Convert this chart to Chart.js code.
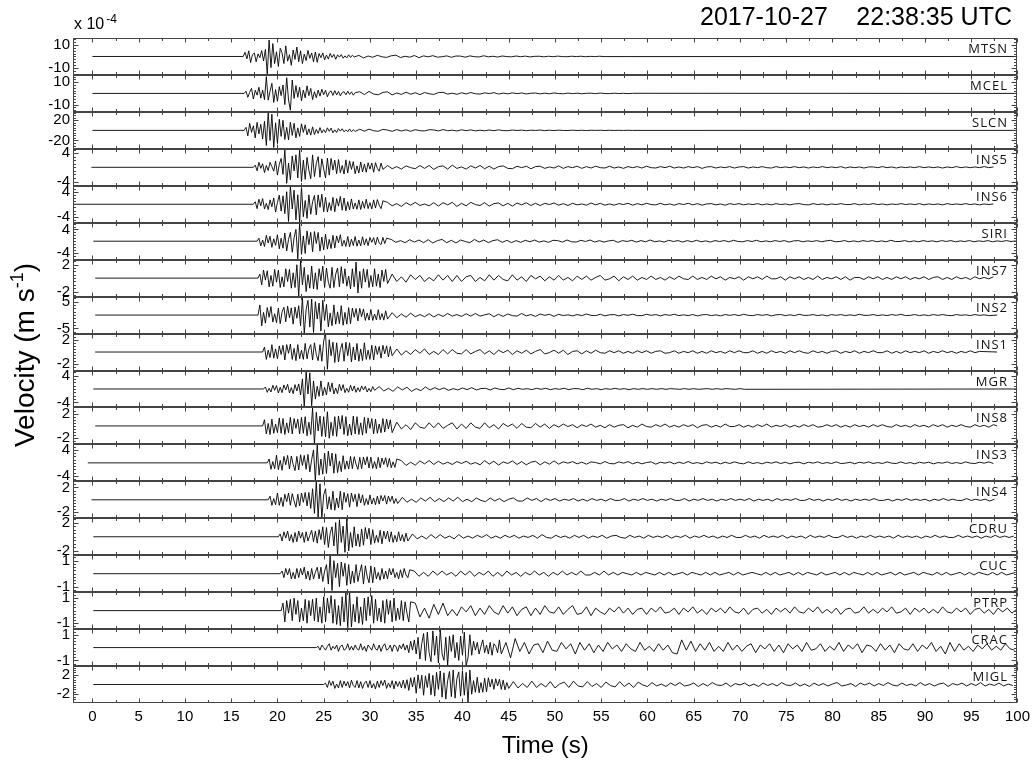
<!DOCTYPE html>
<html><head><meta charset="utf-8">
<script src="https://cdn.jsdelivr.net/npm/chart.js@4.4.1/dist/chart.umd.min.js"></script>
<style>html,body{margin:0;padding:0;background:#fff}#wrap{width:1035px;height:763px;position:relative}</style>
</head><body><div id="wrap"><canvas id="c" width="1035" height="763"></canvas></div>
<script>
// ---- chart values (velocity samples in units of 1e-5 m/s; plotted in units of 1e-4 m/s) ----
const STATIONS = ['MTSN','MCEL','SLCN','INS5','INS6','SIRI','INS7','INS2','INS1','MGR','INS8','INS3','INS4','CDRU','CUC','PTRP','CRAC','MIGL'];
const Y_TICK = [10,10,20,4,4,4,2,5,2,4,2,4,2,2,1,1,1,2];
const Y_LIMIT = [15.7,16.5,36.6,5.2,5.9,6.3,2.75,6.9,3.0,5.5,3.0,5.7,3.0,2.6,1.42,1.47,1.44,3.8];
const LINE_START = [0,0,0,-0.1,-2.1,0.1,0.3,0.3,0.3,0.1,0.3,-0.5,-0.1,0.1,0.1,0.1,0.1,0.1];
const ONSET = [16.3,16.4,16.4,17.4,17.4,17.8,17.9,17.9,18.4,18.5,18.4,18.9,19.0,20.1,20.3,20.4,24.2,25.0];
const LINE_END = [100,100,100,97.8,97.8,100,97.8,97.8,97.8,100,97.8,97.8,97.8,100,100,100,100,100];
const DT_A = 0.2, DT_B = 0.5;
const X_TICKS = [0,5,10,15,20,25,30,35,40,45,50,55,60,65,70,75,80,85,90,95,100];

const MTSN_A = [35,-20,48,-52,15,30,-45,22,-10,50,-38,60,-150,140,-95,110,-60,40,-85,70,30,-60,90,-40,15,-75,55,-25,80,-45,48,-60,20,-35,52,-15,30,-45,38,-50,25,-10,30,-28,12,-22,26,-8,18,-24,14,-6,16,-15,5,-12,14,-9,11,-4];
const MTSN_B = [9,-12,4,-7,10,-3,-8,6,11,-9,2,-6,8,-10,5,-3,7,-6,-2,5,-7,4,3,-6,5,-2,-4,6,-3,2,-5,4,-1,-3,4,-2,3,-4,1,2,-3,2,-2,3,-1,-2,2,-1,2,-2,1,-1,2,-1];
const MCEL_A = [20,-35,10,45,-50,28,-15,55,-42,30,-55,150,-60,20,90,-80,35,-70,60,-20,75,-100,140,-60,-150,120,-45,70,-35,55,-65,30,-40,68,-20,45,-55,15,-38,30,-25,38,-12,28,-30,10,22,-18,25,-14,18,-22,8,15,-12,20,-9,14,-16,6];
const MCEL_B = [15,-10,18,-6,-12,9,14,-13,4,-9,11,-7,6,-11,8,-3,-9,7,10,-6,2,-8,6,-5,8,-3,-6,5,-2,7,-6,3,-4,5,-2,4,-5,2,3,-4,2,-3,4,-1,-3,3,-2,2,-3,1,2,-2,3,-1,-2,2,-1,1,-2,1];
const SLCN_A = [60,-110,140,-40,90,-150,160,-70,120,-170,180,-300,350,-200,320,-340,150,-260,220,-120,200,-180,60,-190,160,-100,140,-150,50,-120,130,-40,110,-90,30,-95,70,-85,20,-60,55,-50,15,-45,50,-20,45,-48,10,-42,35,-15,32,-28,8,-25,28,-30,12,-20];
const SLCN_B = [22,-15,24,-8,-18,20,6,-19,15,-12,10,-18,14,-6,-12,13,9,-11,15,-7,4,-12,11,-5,9,-10,3,-8,7,-6,10,-4,-6,7,-3,5,-7,4,-2,6,-5,3,-4,5,-2,-3,4,-3,2,-4,3,-1,2,-3,2,-2,1,-2,2,-1];
const INS5_A = [6,-10,14,-3,10,-15,5,-9,14,2,-11,18,-22,8,25,-20,50,-45,12,-35,32,-10,35,-30,48,-40,20,-34,28,-8,-32,35,-26,10,30,-28,24,-5,-30,26,-22,25,-8,20,-18,22,-15,5,-19,21,-16,18,-6,16,-18,4,-16,15,-13,9,-14,13,-5,12,-14,13,-3,-11,12,-6];
const INS5_B = [5,-4,2,-5,4,-1,-4,5,-3,5,-6,2,4,-5,6,-3,1,-5,4,-2,5,-4,3,-5,2,4,-3,-4,3,-1,3,-4,2,3,-3,1,-2,4,-3,2,-1,3,-3,2,-2,3,-1,-2,3,-2,1,-3,2,-1,2,-2,3,-1,-2,2,-1,3,-2,1,-2,2,-1,2,-3,1,2,-2,1,-1,2,-2,1,2,-2,1,-1,2,-1,-2,2,-1,1,-1,2,-1,1,-2,1,-1,2,-1,1,-1,2,-2,1,-1,1,-2,1,1,-1,2,-1,1,-2,1,-1,1,-1,2,-1,1,-1,1,-2,1,-1,2,-1,1,-1,1,-1,2,-1,1,-1];
const INS6_A = [8,-14,16,-5,18,-15,3,-17,14,-8,20,-25,6,29,-22,27,-30,40,-55,58,-15,45,-50,30,-58,55,-40,12,-45,30,-32,8,28,-34,30,-10,32,-24,22,-25,5,-20,22,-24,18,-6,25,-19,20,-21,8,-18,17,-15,4,-16,14,-17,9,-13,16,-14,5,-15,14,-12,15,-3,-14,11];
const INS6_B = [6,-5,2,-7,5,-3,6,-4,1,-5,5,-6,5,-2,6,-7,3,-5,6,-1,-4,5,-6,2,4,-5,3,-6,4,-2,5,-4,3,-4,3,-1,4,-3,2,-4,3,-2,1,-3,4,-2,3,-3,1,-3,2,-1,3,-3,2,-2,3,-1,-2,3,-2,1,-3,2,-1,3,-2,2,-3,1,2,-2,1,-3,2,-1,2,-2,1,-1,2,-2,1,-2,2,-1,1,-2,1,2,-1,-2,2,-1,1,-2,1,-1,2,-1,-1,2,-2,1,-1,2,-1,1,-2,1,-1,2,-1,1,-1,2,-2,1,-1,1,-2,2,-1,1,-1,2,-1,1,-2,1,-1,1,-1];
const SIRI_A = [10,-16,4,-18,20,-6,17,-21,8,-14,22,-26,10,-24,28,-33,6,30,-38,12,40,-60,62,-45,18,-42,35,-12,30,-36,33,-8,30,-34,14,-30,24,-27,6,-25,20,-23,18,-5,22,-17,3,-18,16,-19,7,-15,16,-17,4,-16,15,-13,8,-15,13,-4,12,-13,14,-6,-12,13,-8,10];
const SIRI_B = [6,-4,2,-5,5,-3,4,-5,5,-6,2,6,-5,3,-6,4,-1,-5,6,-3,4,-5,2,5,-4,3,-5,2,-4,3,-2,4,-3,1,-4,3,2,-3,4,-2,-3,3,-1,4,-3,2,-3,1,3,-4,2,-1,3,-3,2,-2,4,-2,1,-3,3,-1,2,-3,2,-2,3,-2,1,-3,2,-1,2,-2,3,-1,-2,2,-1,3,-2,1,-2,2,-1,2,-3,1,2,-2,1,-1,2,-2,1,3,-2,-1,2,-2,1,-2,2,-1,2,-2,1,-2,3,-1,-1,2,-2,1,-2,2,-1,1,-2,2,-1,2,-2,1,-1,2,-2,1,-1,2,-2,1,-1,2,-1,1,-1];
const INS7_A = [6,-10,12,-3,11,-13,4,-12,13,-6,12,-14,2,-13,14,-5,13,-15,8,-14,20,-27,26,-10,16,-20,5,-15,18,-16,8,-17,14,-4,18,-14,15,-6,-15,16,-14,6,15,-13,17,-8,14,-12,3,-16,14,-13,24,-22,10,-15,14,-6,13,-14,4,-13,14,-12,6,-14,12,-5,13,-8];
const INS7_B = [6,-5,2,-6,5,-2,4,-5,1,-4,5,-3,4,-5,4,-5,2,4,-5,1,-4,5,-3,4,-2,-4,5,-3,2,-5,4,-1,3,-4,2,-3,4,-3,1,-4,3,-2,3,-3,1,4,-3,-1,3,-4,2,-2,3,-3,1,-2,3,-2,1,-3,2,-2,3,-1,-2,3,-2,1,-2,3,-1,2,-3,1,-1,2,-3,2,-1,2,-2,3,-1,-1,2,-3,2,-1,2,-2,1,-2,3,-2,1,-1,2,-2,2,-3,1,1,-2,2,-1,2,-2,1,-2,2,-1,2,-2,1,-1,2,-2,1,2,-2,1,-2,2,-1,1,-2,2,-1,1,-1,2,-1];
const INS2_A = [38,-40,10,-30,28,-8,32,-26,5,-28,26,-32,12,29,-25,33,-10,27,-34,30,-12,35,-40,66,-69,20,55,-45,60,-65,50,-15,45,-60,56,-20,40,-44,8,-40,38,-34,12,-32,35,-38,10,-34,28,-32,26,-8,24,-22,25,-6,23,-20,8,-19,21,-20,4,-18,20,-17,6,-19,16,-15];
const INS2_B = [9,-10,4,-8,7,-6,2,-6,5,-7,3,-5,6,-4,2,-5,5,-4,6,-4,1,5,-6,3,-5,4,-2,-4,6,-3,2,-5,4,-1,3,-5,3,-2,1,-3,2,-2,4,-1,-2,3,-3,1,2,-3,2,-1,3,-2,-2,3,-1,2,-3,2,-1,3,-2,1,-2,2,-3,1,2,-2,1,-3,2,-1,2,-2,3,-1,-2,2,-1,2,-3,1,2,-2,1,-2,3,-1,-1,2,-2,1,-3,2,-1,2,-2,1,-2,3,-1,-1,2,-2,1,-2,2,-1,3,-2,-1,2,-2,1,-2,2,-1,2,-1,-2,2,-1,1,-2,2,-1,1,-2];
const INS1_A = [8,-12,3,-9,12,-10,5,-11,10,-4,11,-13,12,-2,13,-12,6,-14,12,-11,3,-12,14,-11,5,12,-13,15,-4,-14,12,-15,18,30,-28,20,-6,16,-17,15,-16,4,14,-15,16,-6,15,-16,8,-13,14,-15,5,-14,15,-12,3,-12,11,-13,10,-4,9,-10,11,-3,10,-8,9,-6];
const INS1_B = [5,-5,2,-4,4,-2,5,-4,1,-4,4,-3,4,-2,-3,4,-3,1,4,-3,2,-4,3,-1,3,-4,2,-2,3,-3,1,4,-3,-1,3,-2,3,-4,1,2,-3,2,-2,3,-1,-2,2,-1,2,-2,1,-2,2,-1,2,-2,1,2,-2,-1,2,-2,1,-1,2,-2,1,-2,2,-1,1,-2,2,-1,2,-1,-1,2,-2,1,-2,2,-1,1,-2,2,-1,2,-1,-2,2,-1,1,-2,1,2,-2,1,-1,2,-2,1,-1,2,-1,-1,2,-2,1,-2,2,-1,1,-1,2,-2,1,-1,2,-1,1,-2,1,-1,2,-1,1];
const MGR_A = [6,-10,2,-9,11,-4,10,-12,5,-11,12,-3,14,-12,4,-14,13,-6,15,-18,30,-54,52,-15,48,-50,24,-30,8,-22,24,-20,5,-18,20,-8,18,-15,3,-14,14,-5,13,-11,2,-10,11,-6,9,-10,4,-8,9,-3,8,-9,2,-8,7,-4];
const MGR_B = [7,-6,2,-7,6,-3,5,-7,1,-5,6,-3,4,-2,3,-4,1,-3,3,-2,4,-3,1,2,-3,3,-1,-2,3,-2,2,-1,1,-2,2,-1,2,-2,1,-1,2,-2,1,1,-2,2,-1,1,-2,1,-1,2,-1,1,-2,1,-1,1,-1,1,-1,1,-1,1,0,-1,1,-1,1,-1,0,1,-1,1,-1,1,0,-1,1,-1];
const INS8_A = [10,-13,4,-14,11,-12,3,-11,13,-12,12,-14,5,-11,14,-13,12,-4,11,-13,14,-12,15,-16,6,-14,29,-30,22,-8,16,-17,15,-18,23,-20,6,-16,15,-17,16,-5,17,-14,15,-16,3,-15,16,-13,15,-14,5,-15,14,-12,13,-4,12,-13,11,-12,3,-11,12,-10,11,-5,10,-11];
const INS8_B = [6,-5,2,-6,5,-2,-4,5,-3,5,-4,1,5,-5,3,-4,5,-2,-4,5,-3,2,-5,4,-1,3,-4,4,-2,-3,4,-2,3,-4,2,-2,3,-1,2,-3,2,-1,3,-2,1,-3,2,-2,1,2,-3,1,-2,3,-1,-2,2,-1,3,-2,1,-2,2,-1,2,-3,1,2,-2,1,-2,3,-1,-1,2,-2,1,-2,2,-1,3,-2,1,-1,2,-2,1,-2,2,-1,2,-2,-1,2,-1,2,-2,1,-2,2,-1,1,-2,2,-1,2,-1,-2,2,-1,1,-2,2,-1,1,-2,2,-1,2,-2,1,-1,2,-1,-2,2,-1,1,-2,2];
const INS3_A = [12,-20,4,-18,24,-21,8,-23,20,-6,23,-19,21,-5,-24,20,-22,25,-8,23,-20,26,-28,10,40,-57,55,-38,12,-35,30,-33,36,-10,30,-32,28,-30,5,-27,22,-20,6,-19,20,-18,19,-4,-20,17,-18,18,-6,19,-16,18,-17,4,-18,17,-15,15,-5,16,-13,14,-15,3,-14,12];
const INS3_B = [7,-8,2,-7,6,-3,7,-5,5,-4,2,-5,4,-2,5,-4,1,-6,7,-4,5,-7,3,-2,6,-5,4,-6,2,5,-6,3,-4,6,-4,3,-1,4,-3,2,-4,3,1,-3,4,-2,-3,3,-1,4,-3,2,-3,1,3,-4,2,-1,3,-3,2,-2,4,-2,1,-3,3,-1,2,-3,2,-2,3,-1,-3,3,-2,1,-3,2,-1,3,-2,2,-3,1,2,-3,2,-1,3,-2,1,-2,3,-2,-1,2,-3,2,-1,3,-2,1,-2,3,-1,-2,3,-2,1,-3,2,-1,2,-3,1,-1,3,-2,1,-2,3,-1,-2,2,-1,3,-2,1,-2];
const INS4_A = [6,-9,2,-8,11,-9,4,-11,9,-3,11,-9,10,-2,-12,9,-10,11,-4,12,-10,12,-14,18,-22,30,-28,26,-30,8,18,-15,5,-16,14,-17,3,-13,14,-16,12,-4,10,-12,11,-3,9,-11,10,-5,8,-9,2,-8,8,-7,3,-8,6,-7,7,-2,7,-7,6,-3,6,-6,2,-6];
const INS4_B = [4,-4,1,-4,3,-2,4,-3,2,-3,3,-2,4,-3,1,-3,3,-1,-3,3,-2,2,-3,1,3,-2,-2,3,-1,2,-3,2,-1,2,-2,1,-1,2,-2,1,-2,2,-1,1,-2,2,-1,-1,2,-2,1,-1,2,-1,1,-2,1,-1,2,-1,-1,2,-2,1,-1,2,-1,1,-2,1,-1,2,-1,1,-1,2,-2,1,-1,1,-2,2,-1,1,-1,2,-1,-1,2,-1,1,-2,1,-1,2,-1,1,-2,1,-1,1,-1,2,-1,-1,1,-2,1,-1,2,-1,1,-1,1,-2,1,-1,2,-1,1,-1,-1,2,-1,1,-1,1,-2,1,-1];
const CDRU_A = [4,-6,7,-2,8,-6,3,-8,6,-7,8,-2,6,-8,7,-6,2,9,-7,8,-9,10,-4,14,-11,13,-15,5,14,-13,20,-26,24,-8,15,-22,25,-20,6,-15,14,-13,4,-14,11,-12,13,-3,12,-11,10,-9,2,-8,9,-10,8,-3,8,-7,7,-8,2,-7,7,-6,3,-7,5,-6];
const CDRU_B = [4,-3,1,-3,3,-2,3,-2,1,-3,3,-2,1,-2,2,-1,3,-2,1,-2,2,-1,2,-2,1,-1,2,-2,3,-1,-2,2,-1,1,-2,2,-1,2,-2,1,-1,2,-2,1,2,-1,-2,2,-1,1,-2,2,-1,1,-1,2,-2,1,-1,2,-2,1,-1,2,-1,1,-2,1,-1,2,-1,-1,2,-1,1,-2,2,-1,1,-1,2,-2,1,-1,1,-2,2,-1,1,-1,2,-1,-1,2,-1,1,-2,1,-1,2,-1,1,-1,1,-2,2,-1,1,-1,1,-2,1,-1,2,-1,1,-1,-1,2,-1,1,-1,1,-2,1,-1,2,-1,1,-1,1,-1,2,-1,1,-1];
const CUC_A = [2,-3,4,-1,4,-4,1,-4,4,-3,4,-1,5,-4,2,-5,4,-4,1,5,-4,5,-6,2,7,-8,14,-13,10,-3,8,-10,9,-2,8,-9,7,-8,2,-7,7,-6,1,7,-8,6,-2,-7,6,-7,5,-4,1,-5,4,-4,2,-4,4,-1,4,-3,1,-4,3,-3,4,-1,-3,3];
const CUC_B = [2,-2,1,-2,2,-1,2,-1,1,-2,2,-1,2,-2,1,-1,2,-2,1,-2,2,-1,1,-2,1,-1,2,-1,1,-2,1,-1,2,-1,1,-1,2,-1,-1,1,-1,2,-1,1,-1,1,0,-1,1,-1,1,0,-1,1,-1,1,-1,0,1,-1,1,0,-1,1,-1,1,-1,0,1,-1,1,-1,0,1,0,-1,1,-1,1,-1,0,1,-1,1,-1,1,0,-1,1,-1,0,1,-1,1,-1,1,0,-1,1,-1,1,-1,0,1,-1,1,-1,0,1,-1,1,0,-1,1,-1,1,-1,0,1,-1,1,-1,1,0,-1,1,-1,1,-1,0,1,-1,1,-1];
const PTRP_A = [6,-9,8,-2,9,-8,10,-3,8,-9,2,-8,9,-10,8,-4,9,-8,10,-9,3,-10,11,-9,10,-2,12,-10,9,-11,4,-12,11,-9,14,-14,15,-13,5,-9,11,-10,3,-11,10,-8,11,-4,12,-10,9,-8,2,-9,8,-10,9,-3,8,-9,10,-8,2,-7,8,-8,7,-2,-9,7];
const PTRP_B = [6,-5,2,-6,5,-3,6,-4,1,-4,3,-1,4,-4,2,-3,4,-1,-3,4,-2,3,-4,1,3,-4,2,-3,4,-1,-2,3,-3,1,4,-3,-2,3,-4,2,-1,-3,2,-1,3,-2,2,-3,1,2,-3,2,-1,3,-2,-1,2,-3,2,-1,3,-2,1,-3,2,-1,2,-2,3,-1,-2,2,-3,1,2,-2,1,-3,2,-1,2,-2,3,-1,-2,2,-1,3,-2,1,-2,2,-3,1,2,-2,-1,3,-2,1,-2,2,-1,3,-2,-1,2,-3,2,-1,2,-2,1,-2,3,-1,-2,2,-1,2,-3,1,2,-2,1,-3,2,-1,2,-2,1,-2,3];
const CRAC_A = [1,-2,2,0,-2,1,3,-2,1,-1,2,-3,1,2,-2,-1,3,-2,1,-2,2,-1,-2,3,-2,1,-3,2,0,-2,3,-1,-2,2,-3,1,3,-2,-1,2,-3,2,1,-3,2,-1,3,-2,2,-4,5,-2,6,-5,8,-9,3,11,-10,12,-4,-11,13,-6,9,-12,14,-5,-10,8,-14,9,-3,10,-8,4,-10,9,-6,12,-14,-8,10,-6,5,-2,4,-5,1,6,-4,2,-5,4,-6,3,1,-4,6,-5];
const CRAC_B = [4,-8,7,-3,4,-5,2,3,-4,5,-2,-3,4,-1,3,-5,4,-2,3,-4,2,-3,4,-1,2,-3,3,-1,-3,4,-2,1,-3,3,-2,2,-4,-5,6,-2,5,-3,3,-2,4,-3,1,-3,4,-2,2,-3,1,3,-4,2,-1,3,-3,2,-4,3,-1,2,-3,4,-2,-1,3,-3,1,-2,4,-3,2,-1,3,-4,2,1,-3,3,-2,2,-4,3,-1,-2,3,-3,2,-1,4,-3,1,-5,4,-3,3,-2,1,-3,2,-1,3,-2,1,-2,3,-1,-2,2,-1,2];
const MIGL_A = [3,-6,8,-2,7,-8,1,-7,8,-6,7,-3,6,-7,9,-2,-6,8,-7,6,-8,3,7,-6,8,-7,2,-9,7,-6,8,-2,9,-8,3,-6,8,-9,7,-4,6,-7,9,-8,10,-12,14,-5,15,-18,20,-8,19,-22,18,-6,23,-21,19,-24,25,-10,28,-26,24,-30,8,27,-25,30,-28,12,26,-24,28,-22,25,-38,30,-20,8,-16,15,-17,4,-16,13,-15,14,-5,11,-10,12,-3,11,-10,9,-11,4,-8];
const MIGL_B = [6,-7,2,-6,7,-6,2,-5,6,-7,1,5,-6,7,-3,-5,6,-4,2,-6,5,-2,-5,6,-4,3,-6,5,-1,-4,4,-3,1,-4,3,-2,4,-3,-1,3,-4,2,-3,4,-1,-2,3,-4,2,-1,3,-3,1,-4,3,-2,2,-3,4,-1,-2,3,-3,1,-4,3,-2,2,-3,1,4,-3,-1,2,-4,3,-1,3,-3,2,-2,4,-1,-3,3,-2,1,-3,4,-2,2,-3,1,3,-4,2,-1,3,-3,2,-2,4,-3,1,-2,3,-3,1,-2,3];

const TRACE_A = [MTSN_A,MCEL_A,SLCN_A,INS5_A,INS6_A,SIRI_A,INS7_A,INS2_A,INS1_A,MGR_A,INS8_A,INS3_A,INS4_A,CDRU_A,CUC_A,PTRP_A,CRAC_A,MIGL_A];
const TRACE_B = [MTSN_B,MCEL_B,SLCN_B,INS5_B,INS6_B,SIRI_B,INS7_B,INS2_B,INS1_B,MGR_B,INS8_B,INS3_B,INS4_B,CDRU_B,CUC_B,PTRP_B,CRAC_B,MIGL_B];

function buildTrace(i) {
  const pts = [{x: LINE_START[i], y: 0}, {x: ONSET[i], y: 0}];
  let t = ONSET[i];
  for (const v of TRACE_A[i]) { t += DT_A; pts.push({x: t, y: v / 10}); }
  for (const v of TRACE_B[i]) { t += DT_B; if (t > LINE_END[i]) break; pts.push({x: t, y: v / 10}); }
  if (t < LINE_END[i]) pts.push({x: LINE_END[i], y: 0});
  return pts;
}

const FONT = "'Liberation Sans', Arial, Helvetica, sans-serif";
const N = STATIONS.length;
const datasets = STATIONS.map((s, i) => ({
  label: s, data: buildTrace(i), yAxisID: 'y' + i,
  borderColor: '#000', borderWidth: 0.9, pointRadius: 0, tension: 0, fill: false
}));

const scales = {
  x: {
    type: 'linear', min: -2.1, max: 100, position: 'bottom',
    afterBuildTicks: s => { s.ticks = X_TICKS.map(v => ({value: v})); },
    afterFit: s => { s.height = 60; },
    grid: {display: false, drawTicks: false}, border: {display: false},
    ticks: {font: {family: FONT, size: 15}, color: '#000', padding: 5, maxRotation: 0, autoSkip: false}
  }
};
STATIONS.forEach((s, i) => {
  scales['y' + i] = {
    type: 'linear', position: 'left', stack: 'traces', stackWeight: 1, weight: N - i,
    min: -Y_LIMIT[i], max: Y_LIMIT[i], offset: false,
    afterBuildTicks: sc => { sc.ticks = [{value: -Y_TICK[i]}, {value: Y_TICK[i]}]; },
    afterFit: sc => { sc.width = 50; },
    grid: {display: false, drawTicks: false}, border: {display: false},
    ticks: {font: {family: FONT, size: 15}, color: '#000', padding: 3, autoSkip: false, callback: v => String(v)}
  };
});

const decor = {
  id: 'decor',
  afterDraw(chart) {
    const ctx = chart.ctx, ca = chart.chartArea, xs = chart.scales.x;
    ctx.save();
    ctx.strokeStyle = '#444'; ctx.lineWidth = 1;
    ctx.beginPath();
    const L = Math.round(ca.left) + 0.5, R = Math.round(ca.right) - 0.5;
    STATIONS.forEach((name, i) => {
      const ys = chart.scales['y' + i];
      const top = Math.round(ys.top) + 0.5, bot = Math.round(ys.bottom) - 0.5;
      ctx.moveTo(L, top); ctx.lineTo(R, top);
      ctx.moveTo(L, bot); ctx.lineTo(R, bot);
      X_TICKS.forEach((v, k) => {
        const px = Math.round(xs.getPixelForValue(v)) + 0.5;
        ctx.moveTo(px, top); ctx.lineTo(px, top + 4);
        ctx.moveTo(px, bot); ctx.lineTo(px, bot - 4);
        if (k < X_TICKS.length - 1) {
          const pm = Math.round(xs.getPixelForValue(v + 2.5)) + 0.5;
          ctx.moveTo(pm, top); ctx.lineTo(pm, top + 2.5);
          ctx.moveTo(pm, bot); ctx.lineTo(pm, bot - 2.5);
        }
      });
      const step = Y_TICK[i] / 4;
      for (let v = -Math.floor(Y_LIMIT[i] / step) * step; v <= Y_LIMIT[i] + 1e-9; v += step) {
        const py = Math.round(ys.getPixelForValue(v)) + 0.5;
        const major = Math.abs(Math.abs(v) - Y_TICK[i]) < 1e-9;
        const len = major ? 5 : 2.5;
        ctx.moveTo(L, py); ctx.lineTo(L + len, py);
        ctx.moveTo(R, py); ctx.lineTo(R - len, py);
      }
    });
    ctx.moveTo(L, ca.top); ctx.lineTo(L, ca.bottom);
    ctx.moveTo(R, ca.top); ctx.lineTo(R, ca.bottom);
    ctx.stroke();

    // station labels
    ctx.fillStyle = '#111';
    ctx.font = "13px 'Open Sans', 'DejaVu Sans', sans-serif";
    ctx.textAlign = 'right'; ctx.textBaseline = 'alphabetic';
    if ('letterSpacing' in ctx) ctx.letterSpacing = '1px';
    STATIONS.forEach((name, i) => {
      const ys = chart.scales['y' + i];
      ctx.fillText(name, 1008, ys.top + 15);
    });
    if ('letterSpacing' in ctx) ctx.letterSpacing = '0px';

    // top-left multiplier
    ctx.fillStyle = '#000';
    ctx.textAlign = 'left';
    ctx.font = "16px " + FONT;
    ctx.fillText('x 10', 74, 29);
    const w = ctx.measureText('x 10').width;
    ctx.font = "12px " + FONT;
    ctx.fillText('-4', 74 + w + 2, 23);

    // date/time title
    ctx.font = "25px " + FONT;
    ctx.textAlign = 'left';
    ctx.fillText('2017-10-27', 700, 25);
    ctx.textAlign = 'right';
    ctx.fillText('22:38:35 UTC', 1012, 25);

    // x title
    ctx.textAlign = 'center';
    ctx.font = "24px " + FONT;
    ctx.fillText('Time (s)', (ca.left + ca.right) / 2, 753);

    // y title with superscript
    ctx.save();
    ctx.translate(34, 355);
    ctx.rotate(-Math.PI / 2);
    ctx.font = "28px " + FONT;
    const p1 = 'Velocity (m s', sup = '-1', p2 = ')';
    const w1 = ctx.measureText(p1).width, w3 = ctx.measureText(p2).width;
    ctx.font = "18px " + FONT;
    const w2 = ctx.measureText(sup).width;
    const total = w1 + w2 + w3;
    let x0 = -total / 2;
    ctx.textAlign = 'left';
    ctx.font = "28px " + FONT; ctx.fillText(p1, x0, 0);
    ctx.font = "18px " + FONT; ctx.fillText(sup, x0 + w1, -11);
    ctx.font = "28px " + FONT; ctx.fillText(p2, x0 + w1 + w2, 0);
    ctx.restore();
    ctx.restore();
  }
};

new Chart(document.getElementById('c'), {
  type: 'line',
  data: {datasets},
  options: {
    responsive: false, animation: false, parsing: false, normalized: true,
    layout: {padding: {left: 23, right: 17, top: 38, bottom: 0}},
    plugins: {legend: {display: false}, tooltip: {enabled: false}, title: {display: false}},
    scales
  },
  plugins: [decor]
});
</script></body></html>
